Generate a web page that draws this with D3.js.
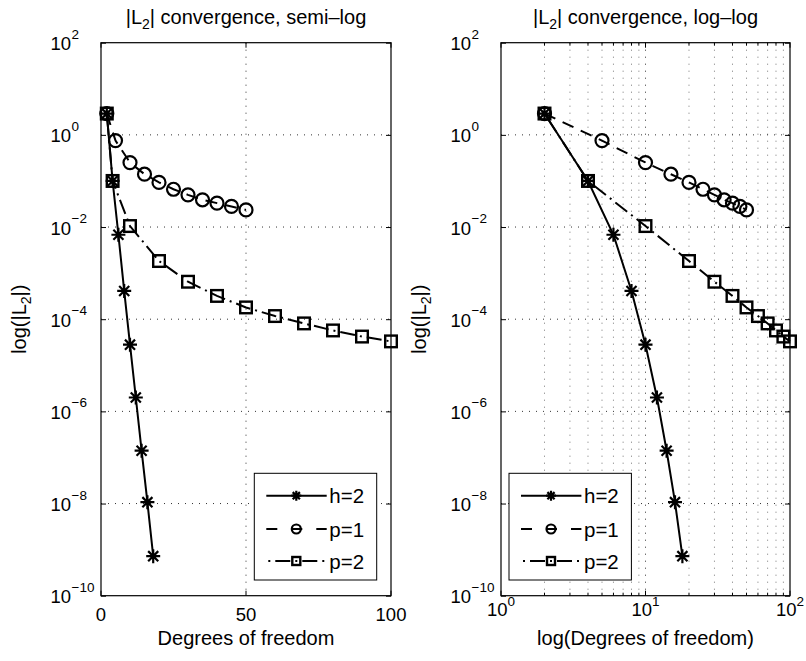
<!DOCTYPE html>
<html>
<head>
<meta charset="utf-8">
<script src="https://cdn.jsdelivr.net/npm/d3@7"></script>
<style>
body { margin: 0; background: #fff; }
text { font-family: "Liberation Sans", Arial, Helvetica, sans-serif; fill: #000; }
</style>
</head>
<body>
<div id="chart"></div>
<script>
// values
var h2Dof = [2, 4, 6, 8, 10, 12, 14, 16, 18];
var h2Err = [2.9, 0.1, 6.8e-3, 4.1e-4, 2.8e-5, 2.0e-6, 1.4e-7, 1.07e-8, 7.2e-10];

var p1Dof = [2, 5, 10, 15, 20, 25, 30, 35, 40, 45, 50];
var p1Err = [2.9, 0.75, 0.25, 0.14, 0.093, 0.066, 0.05, 0.039, 0.033, 0.028, 0.0235];

var p2Dof = [2, 4, 10, 20, 30, 40, 50, 60, 70, 80, 90, 100];
var p2Err = [2.9, 0.1, 0.0105, 1.83e-3, 6.5e-4, 3.2e-4, 1.8e-4, 1.17e-4, 8.1e-5, 5.7e-5, 4.2e-5, 3.3e-5];

var seriesNames = ["h=2", "p=1", "p=2"];

var yTicks = [1e2, 1e0, 1e-2, 1e-4, 1e-6, 1e-8, 1e-10];
var yTickExp = ["2", "0", "\u22122", "\u22124", "\u22126", "\u22128", "\u221210"];
var semiXTicks = [0, 50, 100];
var logXTicks = [1, 10, 100];
var logXExp = ["0", "1", "2"];

var W = 806, H = 661;
var plotTop = 42.7, plotBottom = 595.7;

var svg = d3.select("#chart").append("svg")
	.attr("width", W)
	.attr("height", H);

var series = [
	{name: seriesNames[0], x: h2Dof, y: h2Err, dash: null, legDash: null, marker: "star"},
	{name: seriesNames[1], x: p1Dof, y: p1Err, dash: "12,8", legDash: "11,14", marker: "circle"},
	{name: seriesNames[2], x: p2Dof, y: p2Err, dash: "2,5,15,5", legDash: "2,5,15,5", marker: "square"}
];

function marker(g, type, cx, cy, s) {
	if (type == "star") {
		var d = s * 0.72;
		var p = "M" + (cx - s) + "," + cy + "H" + (cx + s) +
			"M" + cx + "," + (cy - s) + "V" + (cy + s) +
			"M" + (cx - d) + "," + (cy - d) + "L" + (cx + d) + "," + (cy + d) +
			"M" + (cx - d) + "," + (cy + d) + "L" + (cx + d) + "," + (cy - d);
		g.append("path").attr("d", p)
			.attr("stroke", "#000").attr("stroke-width", 2.2).attr("fill", "none");
	} else if (type == "circle") {
		g.append("circle").attr("cx", cx).attr("cy", cy).attr("r", s)
			.attr("stroke", "#000").attr("stroke-width", 2.2).attr("fill", "none");
	} else {
		g.append("rect").attr("x", cx - s).attr("y", cy - s)
			.attr("width", 2 * s).attr("height", 2 * s)
			.attr("stroke", "#000").attr("stroke-width", 2.4).attr("fill", "none");
	}
}

function titleText(g, x, y, rest, rotate) {
	var t = g.append("text")
		.attr("text-anchor", "middle")
		.style("font-size", "20px");
	if (rotate) {
		t.attr("transform", "translate(" + x + "," + y + ") rotate(-90)");
	} else {
		t.attr("x", x).attr("y", y);
	}
	t.append("tspan").text(rest[0]);
	t.append("tspan").attr("dy", 5).style("font-size", "14px").text("2");
	t.append("tspan").attr("dy", -5).text(rest[1]);
}

function panel(cfg) {
	var x;
	if (cfg.logX) {
		x = d3.scaleLog().domain([1, 100]);
	} else {
		x = d3.scaleLinear().domain([0, 100]);
	}
	x.range([cfg.left, cfg.right]);
	var y = d3.scaleLog().domain([1e-10, 1e2]).range([plotBottom, plotTop]);

	var g = svg.append("g");

	g.append("rect")
		.attr("x", cfg.left).attr("y", plotTop)
		.attr("width", cfg.right - cfg.left).attr("height", plotBottom - plotTop)
		.attr("fill", "#fff");

	// grid
	var xGrid = cfg.logX ? x.ticks() : [50];
	xGrid = xGrid.filter(function(v) { return v > x.domain()[0] && v < x.domain()[1]; });
	g.selectAll(".xgrid").data(xGrid).enter().append("line")
		.attr("x1", function(d) { return x(d); })
		.attr("x2", function(d) { return x(d); })
		.attr("y1", plotTop).attr("y2", plotBottom)
		.attr("stroke", function(d) { return (cfg.logX && d != 10) ? "#777" : "#333"; })
		.attr("stroke-width", 1)
		.attr("stroke-dasharray", "1,6");

	g.selectAll(".ygrid").data(yTicks.slice(1, -1)).enter().append("line")
		.attr("x1", cfg.left).attr("x2", cfg.right)
		.attr("y1", function(d) { return y(d); })
		.attr("y2", function(d) { return y(d); })
		.attr("stroke", "#333")
		.attr("stroke-width", 1)
		.attr("stroke-dasharray", "1,6");

	// data
	var line = d3.line()
		.x(function(d) { return x(d[0]); })
		.y(function(d) { return y(d[1]); });

	series.forEach(function(s) {
		var pts = d3.zip(s.x, s.y);
		g.append("path")
			.attr("d", line(pts))
			.attr("fill", "none")
			.attr("stroke", "#000")
			.attr("stroke-width", 2)
			.attr("stroke-dasharray", s.dash);
		pts.forEach(function(p) {
			marker(g, s.marker, x(p[0]), y(p[1]), s.marker == "star" ? 7 : (s.marker == "circle" ? 6.5 : 5.8));
		});
	});

	// ticks, inward on all four sides
	var xt = cfg.logX ? x.ticks() : semiXTicks;
	var major = cfg.logX ? logXTicks : semiXTicks;
	function tsize(d) { return major.indexOf(d) >= 0 ? 5 : 3; }

	g.selectAll(".xtb").data(xt).enter().append("line")
		.attr("x1", function(d) { return x(d); }).attr("x2", function(d) { return x(d); })
		.attr("y1", plotBottom).attr("y2", function(d) { return plotBottom - tsize(d); })
		.attr("stroke", "#000");
	g.selectAll(".xtt").data(xt).enter().append("line")
		.attr("x1", function(d) { return x(d); }).attr("x2", function(d) { return x(d); })
		.attr("y1", plotTop).attr("y2", function(d) { return plotTop + tsize(d); })
		.attr("stroke", "#000");

	g.append("g").attr("transform", "translate(" + cfg.left + ",0)")
		.call(d3.axisLeft(y).tickValues(yTicks).tickSize(-5).tickSizeOuter(0).tickFormat(""))
		.call(function(a) { a.select(".domain").remove(); });
	g.append("g").attr("transform", "translate(" + cfg.right + ",0)")
		.call(d3.axisRight(y).tickValues(yTicks).tickSize(-5).tickSizeOuter(0).tickFormat(""))
		.call(function(a) { a.select(".domain").remove(); });

	// box
	g.append("rect")
		.attr("x", cfg.left).attr("y", plotTop)
		.attr("width", cfg.right - cfg.left).attr("height", plotBottom - plotTop)
		.attr("fill", "none").attr("stroke", "#000").attr("stroke-width", 1.2);

	// y tick labels
	yTicks.forEach(function(v, i) {
		g.append("text")
			.attr("x", cfg.left - 30).attr("y", y(v) + 7.5)
			.attr("text-anchor", "end")
			.style("font-size", "18.5px")
			.text("10");
		g.append("text")
			.attr("x", cfg.left - 29.5).attr("y", y(v) - 4)
			.style("font-size", "13.5px")
			.text(yTickExp[i]);
	});

	// x tick labels
	if (cfg.logX) {
		logXTicks.forEach(function(v, i) {
			var t = g.append("text")
				.attr("x", x(v)).attr("y", 616)
				.attr("text-anchor", "middle")
				.style("font-size", "18.5px");
			t.append("tspan").text("10");
			t.append("tspan").attr("dy", -10).style("font-size", "13.5px").text(logXExp[i]);
		});
	} else {
		semiXTicks.forEach(function(v) {
			g.append("text")
				.attr("x", x(v)).attr("y", 621)
				.attr("text-anchor", "middle")
				.style("font-size", "18.5px")
				.text(v);
		});
	}

	var cx = (cfg.left + cfg.right) / 2;
	titleText(g, cx, 24, ["|L", "| convergence, " + cfg.kind], false);

	g.append("text")
		.attr("x", cx).attr("y", 645)
		.attr("text-anchor", "middle")
		.style("font-size", "20px")
		.text(cfg.xlabel);

	titleText(g, cfg.left - 75, (plotTop + plotBottom) / 2, ["log(|L", "|)"], true);

	// legend
	var lx = cfg.legendX, ly = 473.3, lw = 122.4, lh = 106.7;
	g.append("rect")
		.attr("x", lx).attr("y", ly).attr("width", lw).attr("height", lh)
		.attr("fill", "#fff").attr("stroke", "#000").attr("stroke-width", 1);
	var rows = [495.7, 529, 561];
	series.forEach(function(s, i) {
		var ry = rows[i];
		var x0 = s.legDash == "2,5,15,5" ? lx + 14 : lx + 12;
		g.append("line")
			.attr("x1", x0).attr("x2", lx + 72.4)
			.attr("y1", ry).attr("y2", ry)
			.attr("stroke", "#000").attr("stroke-width", 2)
			.attr("stroke-dasharray", s.legDash);
		marker(g, s.marker, lx + 42, ry, s.marker == "star" ? 5 : (s.marker == "circle" ? 4.5 : 4));
		g.append("text")
			.attr("x", lx + 75).attr("y", ry + 7.5)
			.style("font-size", "20.5px")
			.text(s.name);
	});
}

panel({left: 101, right: 391, logX: false, kind: "semi\u2013log",
	xlabel: "Degrees of freedom", legendX: 254.3});
panel({left: 501, right: 790, logX: true, kind: "log\u2013log",
	xlabel: "log(Degrees of freedom)", legendX: 509});
</script>
</body>
</html>
